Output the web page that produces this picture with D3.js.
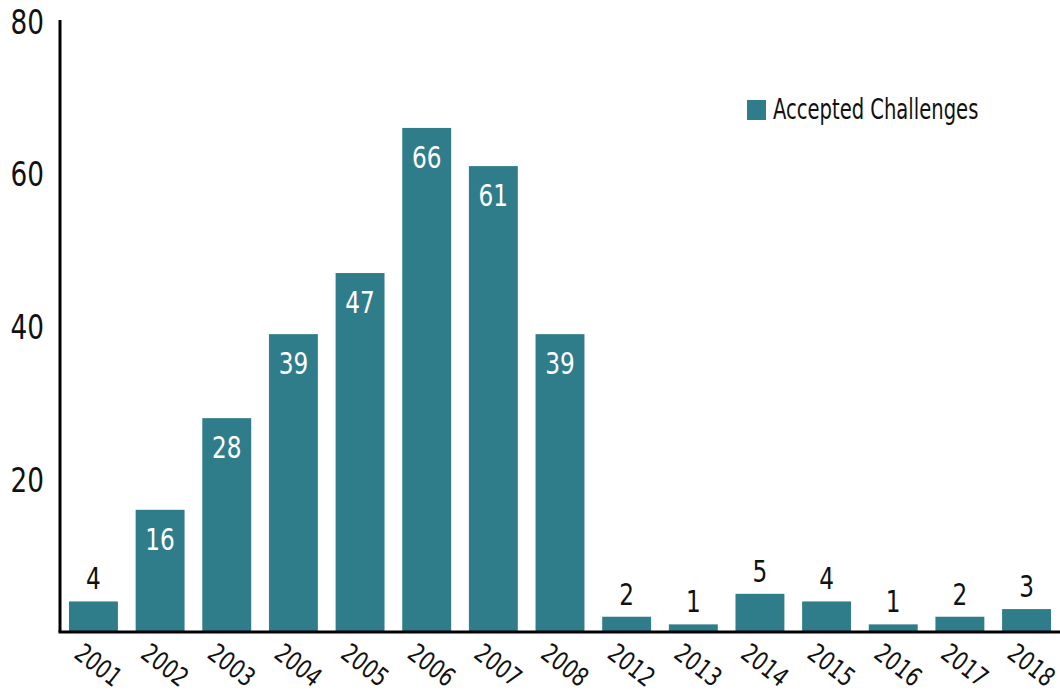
<!DOCTYPE html>
<html>
<head>
<meta charset="utf-8">
<script src="https://cdn.jsdelivr.net/npm/d3@7"></script>
<style>
  body { margin: 0; background: #fff; }
  text { font-family: "DejaVu Sans Condensed", "DejaVu Sans", sans-serif; font-stretch: condensed; }
</style>
</head>
<body>
<svg id="chart"></svg>
<script>
// data
const years = ['2001', '2002', '2003', '2004', '2005', '2006', '2007', '2008',
  '2012', '2013', '2014', '2015', '2016', '2017', '2018'];
const accepted = [4, 16, 28, 39, 47, 66, 61, 39, 2, 1, 5, 4, 1, 2, 3];
const yTicks = [20, 40, 60, 80];
const seriesName = 'Accepted Challenges';

const width = 1060;
const height = 692;
const plotLeft = 60, plotRight = 1060, plotTop = 21, plotBottom = 632;
const barColor = '#2f7d8b';

const svg = d3.select('#chart')
  .attr('width', width)
  .attr('height', height);

const x = d3.scaleBand()
  .domain(years)
  .range([plotLeft, plotRight])
  .paddingInner(0.266)
  .paddingOuter(0.135);

const y = d3.scaleLinear()
  .domain([0, 80])
  .range([plotBottom, plotTop]);

// bars
svg.selectAll('.bar')
  .data(accepted)
  .enter()
  .append('rect')
  .attr('class', 'bar')
  .attr('x', (d, i) => x(years[i]))
  .attr('y', d => y(d))
  .attr('width', x.bandwidth())
  .attr('height', d => plotBottom - y(d))
  .attr('fill', barColor);

// value labels: inside for tall bars, above for short ones
// (text squeezed horizontally to mimic the narrow face of the original)
svg.selectAll('.val')
  .data(accepted)
  .enter()
  .append('text')
  .attr('class', 'val')
  .attr('transform', (d, i) => {
    const cx = x(years[i]) + x.bandwidth() / 2;
    const ty = d >= 10 ? y(d) + 40 : y(d) - 12;
    return `translate(${cx},${ty}) scale(0.86,1)`;
  })
  .attr('text-anchor', 'middle')
  .attr('font-size', 30)
  .attr('fill', d => d >= 10 ? '#fff' : '#111')
  .text(d => d);

// y axis
const yAxis = d3.axisLeft(y).tickValues(yTicks).tickSize(0).tickPadding(0);
const gy = svg.append('g')
  .attr('transform', `translate(${plotLeft},0)`)
  .call(yAxis);
gy.select('.domain').attr('stroke', '#000').attr('stroke-width', 3)
  .attr('d', `M0,${plotTop - 1}V${plotBottom}`);
gy.selectAll('text')
  .attr('font-size', 34)
  .attr('fill', '#111')
  .attr('x', 0)
  .attr('dy', '0.36em')
  .attr('transform', 'translate(-16,0) scale(0.86,1)');

// x axis
const xAxis = d3.axisBottom(x).tickSize(0).tickPadding(0);
const gx = svg.append('g')
  .attr('transform', `translate(0,${plotBottom})`)
  .call(xAxis);
gx.select('.domain').attr('stroke', '#000').attr('stroke-width', 3)
  .attr('d', `M${plotLeft - 1.5},0H${plotRight}`);
gx.selectAll('text')
  .attr('font-size', 26)
  .attr('fill', '#111')
  .attr('text-anchor', 'middle')
  .attr('transform', 'translate(5,33) rotate(38) scale(0.86,1)')
  .attr('y', 0)
  .attr('dy', '0.35em');

// legend
const legend = svg.append('g');
legend.append('rect')
  .attr('x', 747)
  .attr('y', 100)
  .attr('width', 19)
  .attr('height', 20)
  .attr('fill', barColor);
legend.append('text')
  .attr('transform', 'translate(773,119) scale(0.75,1)')
  .attr('font-size', 29)
  .attr('fill', '#111')
  .text(seriesName);
</script>
</body>
</html>
